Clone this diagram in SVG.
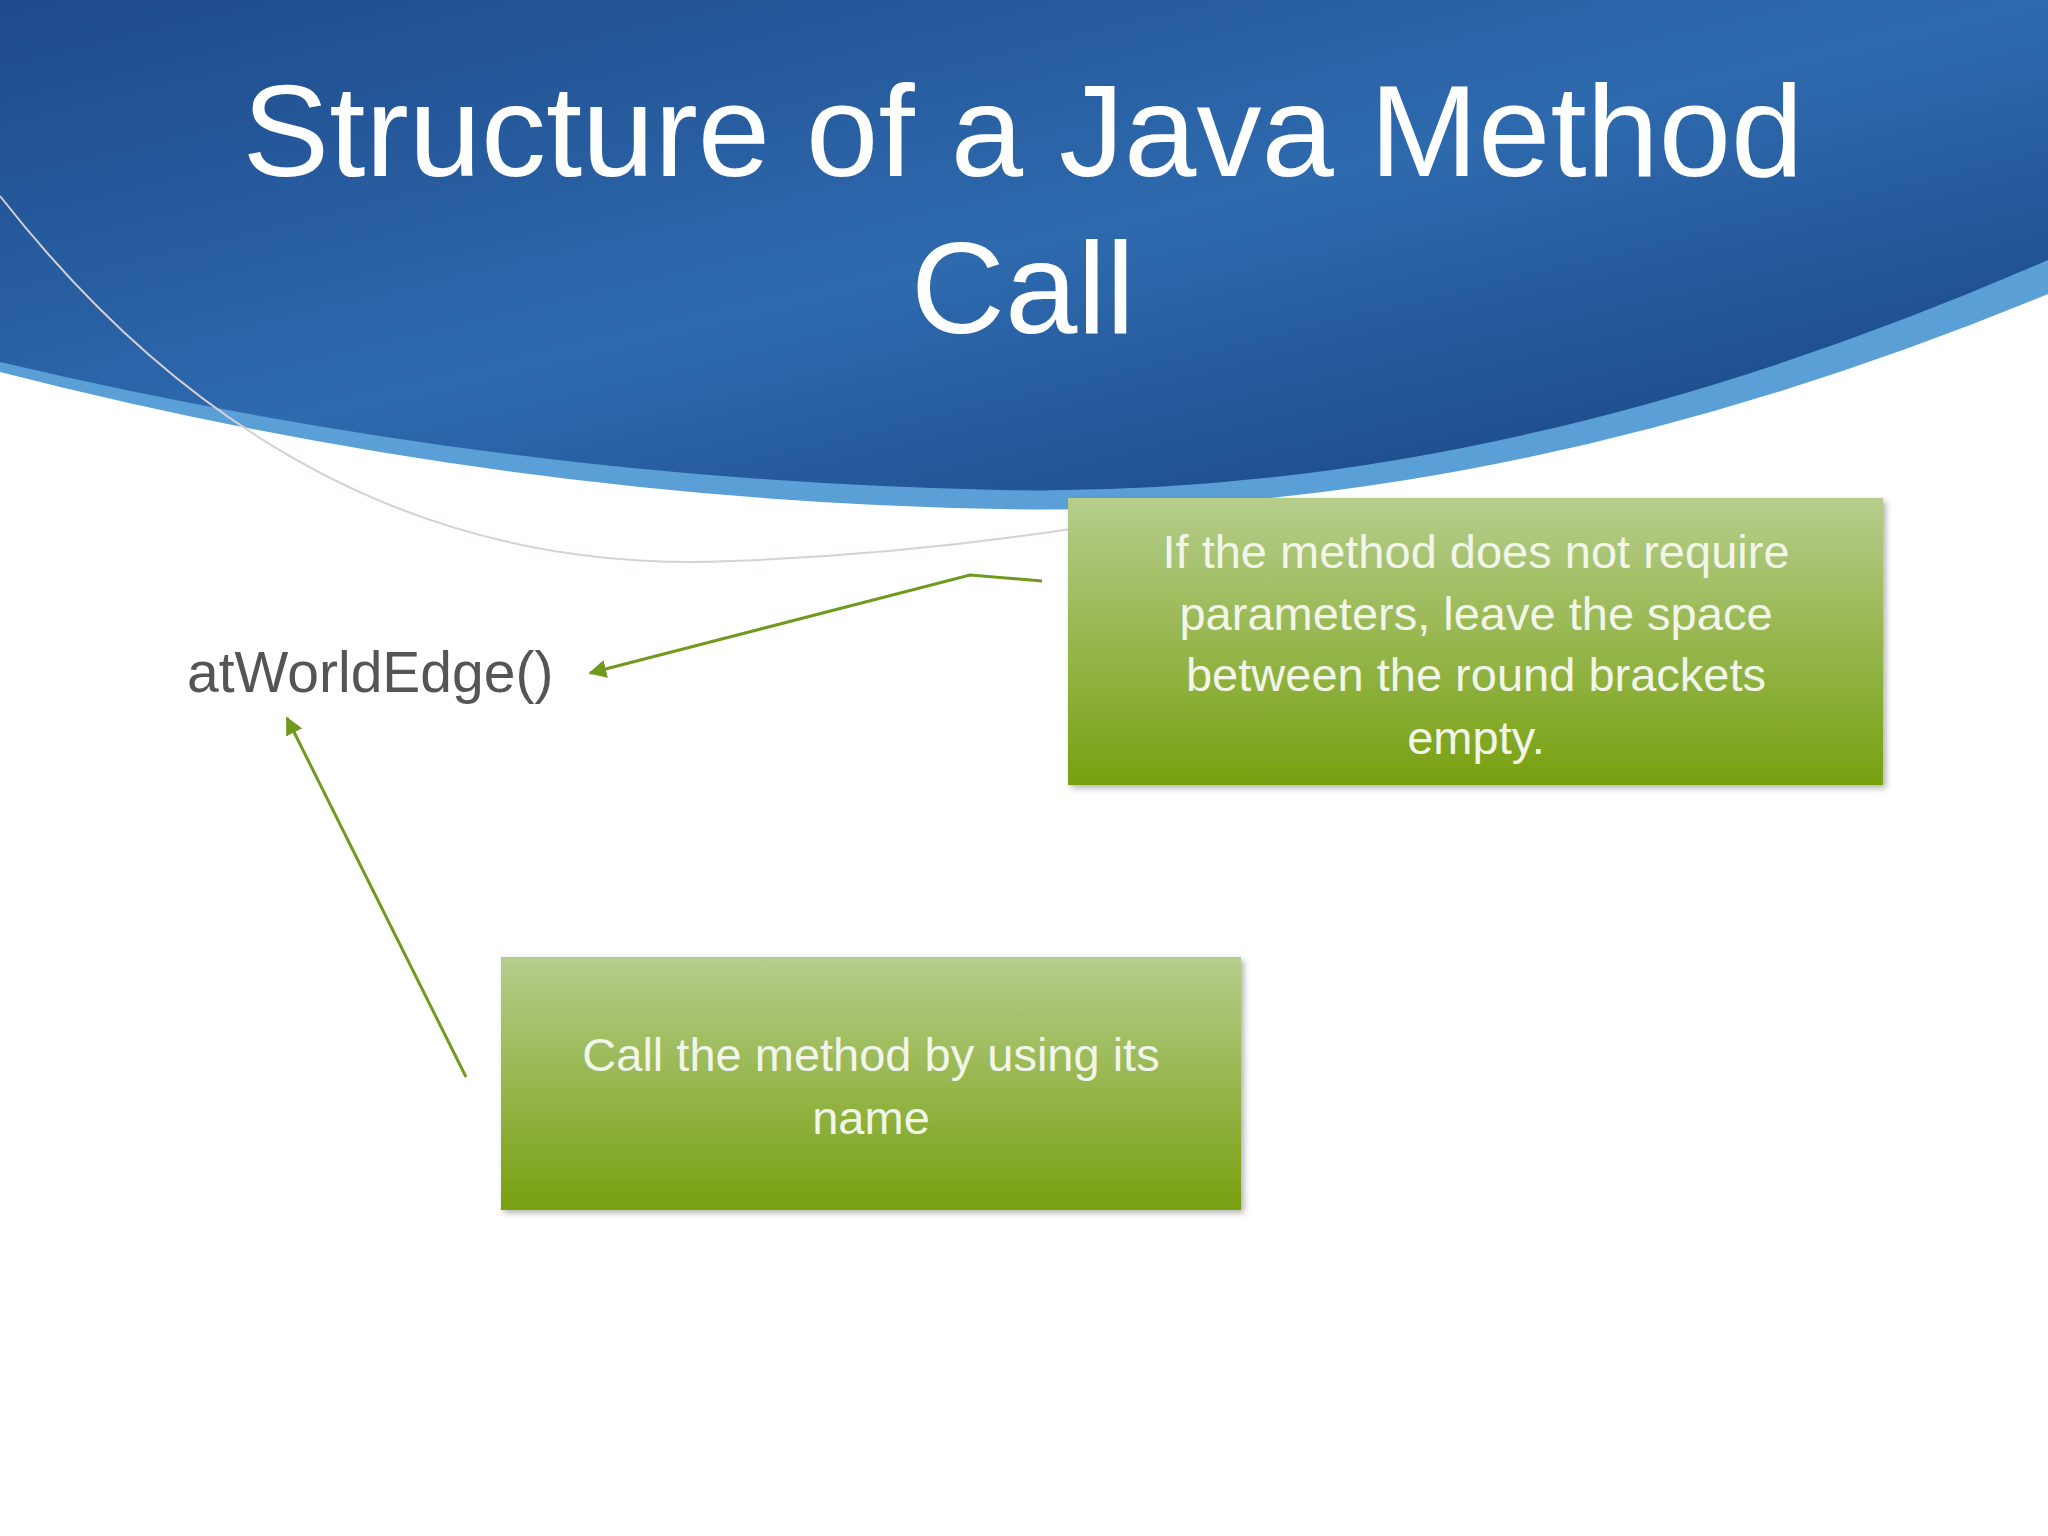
<svg xmlns="http://www.w3.org/2000/svg" width="2048" height="1536" viewBox="0 0 2048 1536">
<style>
.t{font-family:"Liberation Sans",Arial,sans-serif;}
.bt{font-family:"Liberation Sans",Arial,sans-serif;font-size:47px;fill:#f2f5ea;text-anchor:middle;}
.c{fill:none;stroke:#6f9a1e;stroke-width:3;}
</style>
<defs>
<linearGradient id="blue" x1="0" y1="0" x2="1" y2="1">
<stop offset="0" stop-color="#1d4a8a"/><stop offset="0.5" stop-color="#2e6aae"/><stop offset="1" stop-color="#16407e"/>
</linearGradient>
<linearGradient id="green" x1="0" y1="0" x2="0" y2="1">
<stop offset="0" stop-color="#b6cd8c"/><stop offset="1" stop-color="#78a010"/>
</linearGradient>
<marker id="ah" viewBox="0 0 10 10" refX="9" refY="5" markerWidth="6" markerHeight="6" orient="auto"><path d="M0,0L10,5L0,10z" fill="#6f9a1e"/></marker>
<filter id="sh"><feDropShadow dx="3" dy="3" stdDeviation="3" flood-opacity="0.3"/></filter>
</defs>
<rect width="2048" height="1536" fill="#fff"/>
<path d="M0,0H2048V294Q1500,520 1000,509Q500,500 0,372Z" fill="#5aa0d6"/>
<path d="M0,0H2048V260Q1500,500 1000,490Q500,480 0,362Z" fill="url(#blue)"/>
<path d="M0,196Q300,580 731,561Q900,555 1071,529" fill="none" stroke="#d8d0d8" stroke-width="2"/>
<text class="t" x="1023" y="176" font-size="130" fill="#fff" text-anchor="middle">Structure of a Java Method</text>
<text class="t" x="1023" y="333" font-size="130" fill="#fff" text-anchor="middle">Call</text>
<g id="code"><text class="t" x="187" y="692" font-size="57" fill="#555">atWorldEdge()</text></g>
<g id="box1"><rect x="1068" y="498" width="815" height="287" fill="url(#green)" filter="url(#sh)"/>
<text class="bt" x="1476" y="568">If the method does not require</text>
<text class="bt" x="1476" y="630">parameters, leave the space</text>
<text class="bt" x="1476" y="691">between the round brackets</text>
<text class="bt" x="1476" y="754">empty.</text></g>
<g id="box2"><rect x="501" y="957" width="740" height="253" fill="url(#green)" filter="url(#sh)"/>
<text class="bt" x="871" y="1071">Call the method by using its</text>
<text class="bt" x="871" y="1134">name</text></g>
<g id="connectors">
<polyline class="c" points="1042,581 970,575 590,673" marker-end="url(#ah)"/>
<line class="c" x1="466" y1="1077" x2="287" y2="718" marker-end="url(#ah)"/>
</g>
</svg>
